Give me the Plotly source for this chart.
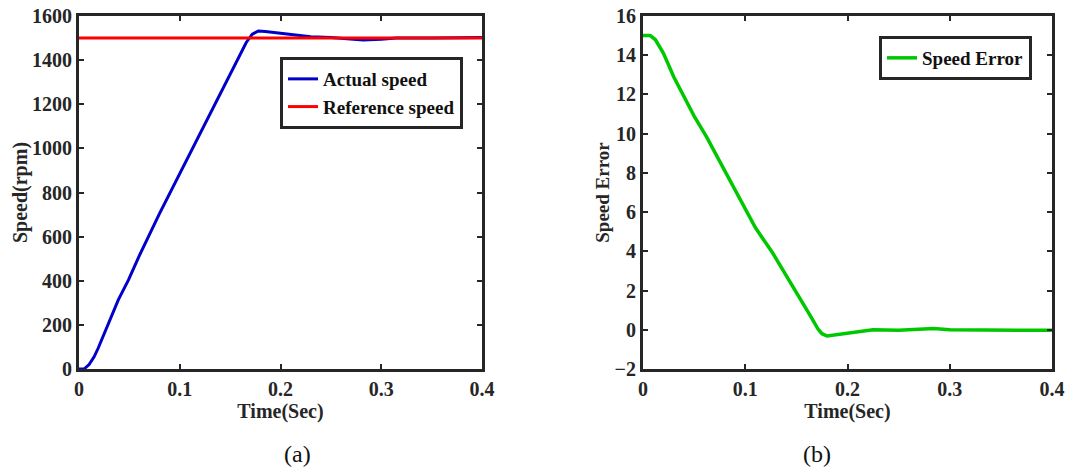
import plotly.graph_objects as go
from plotly.subplots import make_subplots

# ---- data ----
t_speed = [0, 0.005, 0.01, 0.015, 0.019, 0.029, 0.039, 0.049, 0.06, 0.08, 0.1, 0.12,
           0.14, 0.155, 0.166, 0.172, 0.178, 0.185, 0.2, 0.216, 0.23, 0.25, 0.265,
           0.282, 0.3, 0.315, 0.35, 0.4]
actual_speed = [0, 0, 20, 55, 94, 200, 313, 403, 515, 705, 885, 1060,
                1240, 1375, 1480, 1518, 1532, 1530, 1522, 1512, 1506, 1502, 1497,
                1491, 1495, 1500, 1500, 1502]
t_ref = [0, 0.4]
reference_speed = [1500, 1500]

t_err = [0, 0.007, 0.012, 0.02, 0.03, 0.04, 0.05, 0.062, 0.078, 0.098, 0.11, 0.127,
         0.14, 0.155, 0.165, 0.171, 0.175, 0.18, 0.19, 0.2, 0.21, 0.225, 0.25, 0.27,
         0.284, 0.3, 0.33, 0.362, 0.38, 0.4]
speed_error = [15, 15, 14.8, 14.1, 12.9, 11.9, 10.9, 9.85, 8.3, 6.3, 5.2, 3.9,
               2.8, 1.5, 0.6, 0.05, -0.2, -0.32, -0.25, -0.15, -0.08, 0, -0.02, 0.02,
               0.06, 0, -0.02, -0.05, -0.03, -0.02]

x_ticks = [0, 0.1, 0.2, 0.3, 0.4]
x_tick_labels = ["0", "0.1", "0.2", "0.3", "0.4"]
speed_ticks = [0, 200, 400, 600, 800, 1000, 1200, 1400, 1600]
err_ticks = [-2, 0, 2, 4, 6, 8, 10, 12, 14, 16]

FONT = "Liberation Serif, Times New Roman, serif"
AX = "#262626"

fig = make_subplots(rows=1, cols=2)

fig.add_trace(go.Scatter(x=t_speed, y=actual_speed, mode="lines", name="Actual speed",
                         line=dict(color="#0000C8", width=3), legend="legend"), 1, 1)
fig.add_trace(go.Scatter(x=t_ref, y=reference_speed, mode="lines", name="Reference speed",
                         line=dict(color="#FF0000", width=3), legend="legend"), 1, 1)
fig.add_trace(go.Scatter(x=t_err, y=speed_error, mode="lines", name="Speed Error",
                         line=dict(color="#00C800", width=3.5), legend="legend2"), 1, 2)

ax_common = dict(showline=True, linewidth=3, linecolor=AX, mirror="ticks",
                 ticks="inside", ticklen=5, tickwidth=2, tickcolor=AX,
                 showgrid=False, zeroline=False, automargin=False,
                 ticklabeloverflow="allow",
                 tickfont=dict(family=FONT, size=20, color=AX, weight="bold"))

fig.update_xaxes(**ax_common, range=[0, 0.4], tickvals=x_ticks, ticktext=x_tick_labels,
                 title=dict(text="Time(Sec)", standoff=4,
                            font=dict(family=FONT, size=20, color=AX, weight="bold")))
fig.update_xaxes(domain=[0.07356, 0.44879], row=1, col=1)
fig.update_xaxes(domain=[0.5987, 0.97952], row=1, col=2)

fig.update_yaxes(**ax_common)
fig.update_yaxes(range=[0, 1600], tickvals=speed_ticks, domain=[0.22152, 0.96624],
                 title=dict(text="Speed(rpm)", standoff=0,
                            font=dict(family=FONT, size=20, color=AX, weight="bold")),
                 row=1, col=1)
fig.update_yaxes(range=[-2, 16], tickvals=err_ticks, domain=[0.22152, 0.96624],
                 title=dict(text="Speed Error", standoff=0,
                            font=dict(family=FONT, size=19, color=AX, weight="bold")),
                 row=1, col=2)

legend_common = dict(bgcolor="white", bordercolor=AX, borderwidth=3,
                     font=dict(family=FONT, size=19, color="#111", weight="bold"),
                     xanchor="right", yanchor="top", itemwidth=30,
                     tracegroupgap=0)
fig.update_layout(
    width=1074, height=474,
    margin=dict(l=0, r=0, t=0, b=0),
    paper_bgcolor="white", plot_bgcolor="white",
    legend=dict(**legend_common, x=0.4311, y=0.8797),
    legend2=dict(**legend_common, x=0.9609, y=0.9241),
    annotations=[
        dict(text="(a)", x=0.2626, y=0.0422, xref="paper", yref="paper", showarrow=False,
             font=dict(family=FONT, size=24, color="#111"), yanchor="middle"),
        dict(text="(b)", x=0.7756, y=0.0422, xref="paper", yref="paper", showarrow=False,
             font=dict(family=FONT, size=24, color="#111"), yanchor="middle"),
    ],
)

fig.write_html("out.html", config={"displayModeBar": False},
               post_script="document.body.style.margin='0';document.body.style.overflow='hidden';")
